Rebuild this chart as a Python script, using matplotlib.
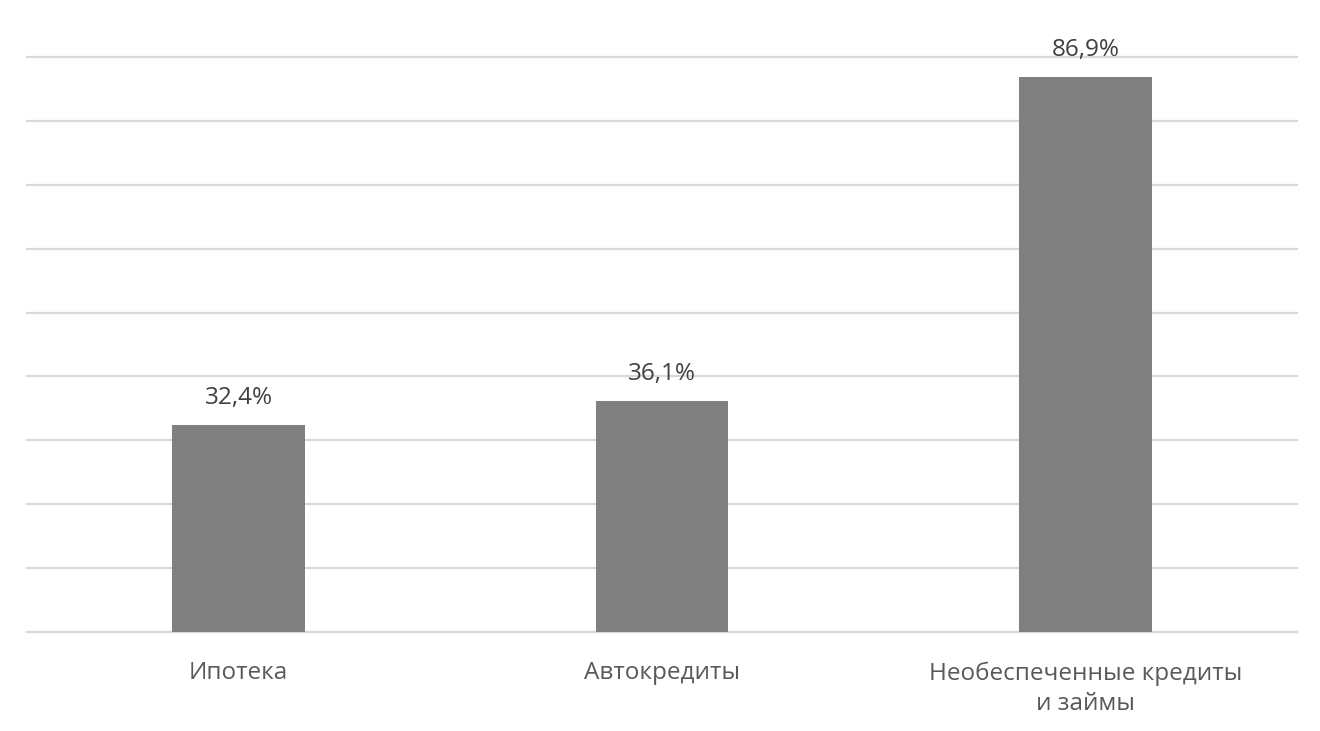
import matplotlib
matplotlib.use("Agg")
import matplotlib.pyplot as plt
import numpy as np

plt.rcParams['font.family'] = ['Open Sans', 'DejaVu Sans']

categories = ["Ипотека", "Автокредиты", "Необеспеченные кредиты\nи займы"]
values = [32.4, 36.1, 86.9]
labels = ["32,4%", "36,1%", "86,9%"]

fig = plt.figure(figsize=(13.2, 7.31), dpi=100)
ax = fig.add_axes([27 / 1320, 1 - 632 / 731, 1270 / 1320, (632 - 57) / 731])

x = np.arange(len(categories))
ax.bar(x, values, width=0.314, color="#808080", zorder=3)

for xi, v, lab in zip(x, values, labels):
    ax.annotate(lab, (xi, v), xytext=(0, 11), textcoords="offset points",
                ha="center", va="bottom", fontsize=17.5, color="#404040")

ax.set_xlim(-0.5, 2.5)
ax.set_ylim(0, 90)
ax.set_yticks(np.arange(0, 91, 10))
ax.yaxis.grid(True, color="#d9d9d9", linewidth=1.6, zorder=0)
for gl in ax.get_ygridlines():
    gl.set_clip_on(False)
ax.set_yticklabels([])
ax.tick_params(axis="y", length=0)
ax.tick_params(axis="x", length=0, pad=21)
ax.set_xticks(x)
ax.set_xticklabels(categories, fontsize=17.5, color="#595959", linespacing=1.35)
for s in ["top", "right", "left"]:
    ax.spines[s].set_visible(False)
ax.spines["bottom"].set_color("#d9d9d9")
ax.spines["bottom"].set_linewidth(1.6)

fig.savefig("out.png", dpi=100)
